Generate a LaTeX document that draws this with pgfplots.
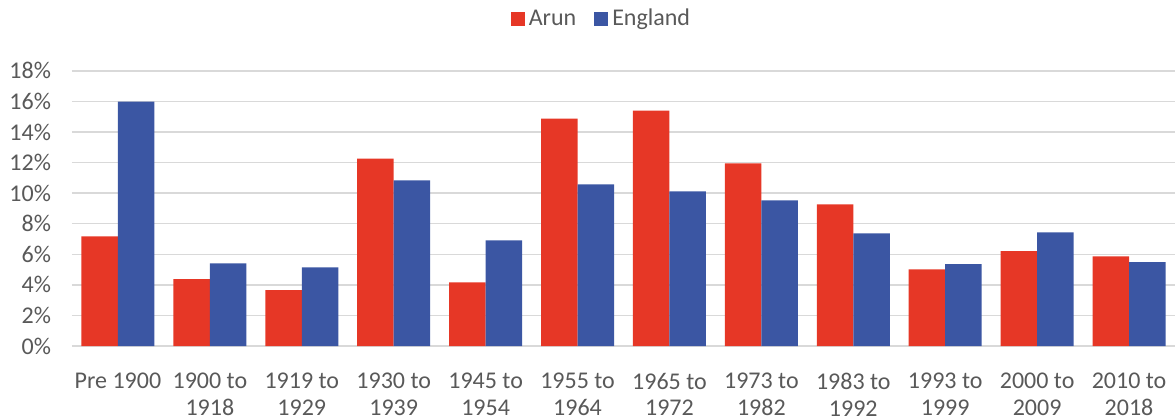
\documentclass[border=0pt]{standalone}
\usepackage{pgfplots}
\pgfplotsset{compat=1.18}
\usepackage{fontspec}
\setmainfont{Carlito}
\definecolor{arun}{HTML}{E63726}
\definecolor{eng}{HTML}{3B56A3}
\definecolor{gridc}{HTML}{D9D9D9}
\definecolor{txt}{HTML}{595959}
\begin{document}
\begin{tikzpicture}
\path[use as bounding box] (-36pt,-36.5pt) rectangle (552pt,173pt);
\begin{axis}[
  scale only axis,
  width=551.5pt, height=137.6pt,
  ybar=0pt, bar width=18.25pt,
  xmin=-0.5, xmax=11.5,
  ymin=0, ymax=18,
  ytick={0,2,...,18},
  yticklabel={\pgfmathprintnumber{\tick}\%},
  /pgf/number format/assume math mode=true,
  xtick={0,...,11},
  xticklabels={Pre 1900,1900 to\\1918,1919 to\\1929,1930 to\\1939,1945 to\\1954,1955 to\\1964,1965 to\\1972,1973 to\\1982,1983 to\\1992,1993 to\\1999,2000 to\\2009,2010 to\\2018},
  xticklabel style={align=center, font=\fontsize{12}{13.3}\selectfont, text=txt, yshift=-10pt},
  yticklabel style={font=\fontsize{12}{13.3}\selectfont, text=txt, xshift=-7pt},
  major tick length=0pt,
  ymajorgrids, grid style={gridc, line width=0.75pt},
  axis x line*=bottom, axis y line*=left,
  y axis line style={draw=none},
  x axis line style={gridc, line width=0.75pt, -},
  legend style={draw=none, at={(0.392,1.188)}, anchor=west, font=\fontsize{12}{13.3}\selectfont, text=txt, legend columns=2, /tikz/every even column/.append style={column sep=7pt}},
  legend image code/.code={\fill[#1] (0pt,-3.5pt) rectangle (7pt,3.5pt);},
]
\addplot[fill=arun, draw=none] coordinates {(0,7.17) (1,4.37) (2,3.65) (3,12.26) (4,4.17) (5,14.87) (6,15.39) (7,11.94) (8,9.26) (9,5.02) (10,6.2) (11,5.87)};
\addplot[fill=eng, draw=none] coordinates {(0,15.98) (1,5.41) (2,5.15) (3,10.83) (4,6.91) (5,10.57) (6,10.11) (7,9.52) (8,7.37) (9,5.35) (10,7.44) (11,5.48)};
\legend{Arun,England}
\end{axis}
\end{tikzpicture}
\end{document}
